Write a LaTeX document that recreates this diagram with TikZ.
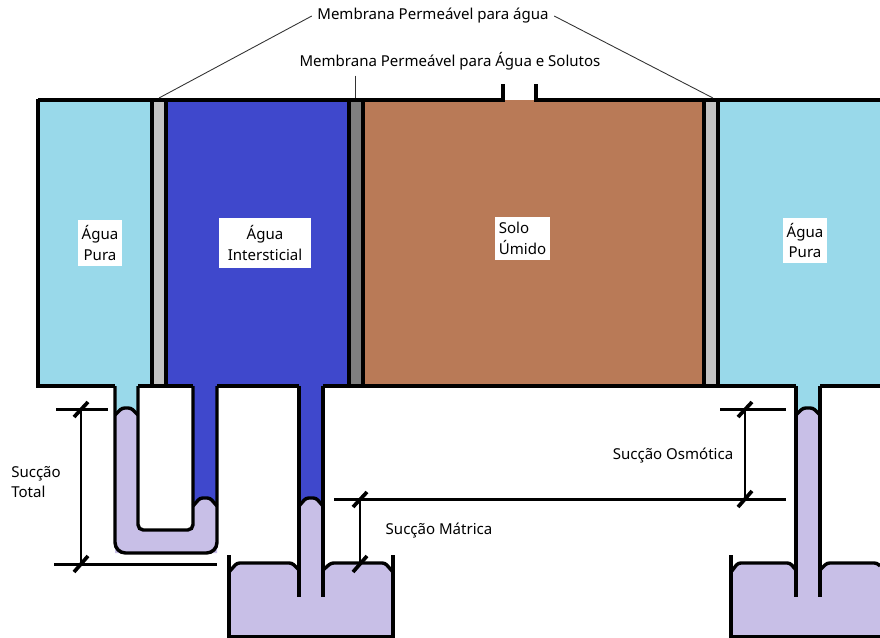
\documentclass[tikz,border=0pt]{standalone}
\usepackage{fontspec}
\setmainfont{Noto Sans}
\definecolor{bgWater}{HTML}{99D9EA}
\definecolor{bgPore}{HTML}{3F48CC}
\definecolor{bgSoil}{HTML}{B97A57}
\definecolor{bgMercury}{HTML}{C8BFE7}
\definecolor{bgMemLight}{HTML}{C3C3C3}
\definecolor{bgMemDark}{HTML}{7F7F7F}

\begin{document}
\begin{tikzpicture}[
    x=0.02cm, y=-0.02cm,
    font=\fontsize{8.55}{11.9}\selectfont,
    wall/.style={draw=black, line width=1.95pt},
    meniscus/.style={wall, rounded corners=1.5pt},
    dimLine/.style={draw=black, line width=1.7pt},
    tick/.style={draw=black, line width=2.1pt},
    leader/.style={draw=black!80, line width=0.5pt},
    chamberText/.style={fill=white, align=center, inner xsep=2.3pt, inner ysep=3pt},
    plainText/.style={align=left, inner sep=3pt}
]
\useasboundingbox (0, 0) rectangle (880, 637);

\fill[bgWater] (38, 100) rectangle (152, 386);
\fill[bgMemLight] (152, 100) rectangle (166, 386);
\fill[bgPore] (166, 100) rectangle (349, 386);
\fill[bgMemDark] (349, 100) rectangle (363, 386);
\fill[bgSoil] (363, 100) rectangle (704, 386);
\fill[bgMemLight] (704, 100) rectangle (718, 386);
\fill[bgWater] (718, 100) rectangle (880, 386);

\fill[bgWater] (115, 386) rectangle (138, 412);
\fill[bgWater] (796, 386) rectangle (820, 412);
\fill[bgPore] (193, 386) rectangle (217, 502);
\fill[bgPore] (299, 386) rectangle (323, 502);

\fill[bgMercury] (115, 415) -- (122, 408) -- (131, 408) -- (138, 415) -- (138, 530) -- (193, 530) -- (193, 506) -- (200, 498) -- (210, 498) -- (217, 506) -- (217, 553) -- (115, 553) -- cycle;
\fill[bgMercury] (299, 506) -- (306, 498) -- (316, 498) -- (323, 506) -- (323, 570) -- (331, 563) -- (385, 563) -- (393, 572) -- (393, 637) -- (229, 637) -- (229, 572) -- (237, 563) -- (292, 563) -- (299, 570) -- cycle;
\fill[bgMercury] (796, 415) -- (803, 408) -- (813, 408) -- (820, 415) -- (820, 570) -- (827, 563) -- (877, 563) -- (880, 566) -- (880, 637) -- (731, 637) -- (731, 572) -- (738, 563) -- (790, 563) -- (796, 570) -- cycle;

\draw[wall] (38, 100) -- (503, 100) -- (503, 84);
\draw[wall] (536, 84) -- (536, 100) -- (880, 100);
\draw[wall] (38, 99) -- (38, 386) -- (115, 386);
\foreach \xpos in {152, 166, 349, 363, 704, 718} {
    \draw[wall] (\xpos, 100) -- (\xpos, 386);
}
\draw[wall] (138, 386) -- (193, 386);
\draw[wall] (217, 386) -- (299, 386);
\draw[wall] (323, 386) -- (796, 386);
\draw[wall] (820, 386) -- (880, 386);

\draw[wall, rounded corners=6pt] (115, 386) -- (115, 553) -- (217, 553) -- (217, 386);
\draw[wall, rounded corners=3pt] (138, 386) -- (138, 530) -- (193, 530) -- (193, 386);
\draw[wall] (299, 386) -- (299, 597);
\draw[wall] (323, 386) -- (323, 597);
\draw[wall] (796, 386) -- (796, 597);
\draw[wall] (820, 386) -- (820, 597);

\draw[meniscus] (115, 415) -- (122, 408) -- (131, 408) -- (138, 415);
\draw[meniscus] (193, 506) -- (200, 498) -- (210, 498) -- (217, 506);
\draw[meniscus] (299, 506) -- (306, 498) -- (316, 498) -- (323, 506);
\draw[meniscus] (796, 415) -- (803, 408) -- (813, 408) -- (820, 415);

\draw[wall] (229, 555) -- (229, 637) -- (393, 637) -- (393, 555);
\draw[meniscus] (229, 572) -- (237, 563) -- (292, 563) -- (299, 570);
\draw[meniscus] (323, 570) -- (331, 563) -- (385, 563) -- (393, 572);
\draw[wall] (731, 555) -- (731, 637) -- (880, 637);
\draw[meniscus] (731, 572) -- (738, 563) -- (790, 563) -- (796, 570);
\draw[meniscus] (820, 570) -- (827, 563) -- (877, 563) -- (880, 566);

\coordinate (totalTop) at (81, 409);
\coordinate (totalBottom) at (81, 564);
\coordinate (matricTop) at (360, 499);
\coordinate (matricBottom) at (360, 564);
\coordinate (osmoticTop) at (745, 409);
\coordinate (osmoticBottom) at (745, 499);

\draw[dimLine] (56, 409) -- (108, 409);
\draw[dimLine] (54, 564) -- (217, 564);
\draw[dimLine] (334, 499) -- (786, 499);
\draw[dimLine] (720, 409) -- (786, 409);

\foreach \dimA/\dimB in {totalTop/totalBottom, matricTop/matricBottom, osmoticTop/osmoticBottom} {
    \draw[dimLine] (\dimA) -- (\dimB);
    \draw[tick] ([shift={(-7, 8)}]\dimA) -- ([shift={(7, -7)}]\dimA);
    \draw[tick] ([shift={(-7, 8)}]\dimB) -- ([shift={(7, -8)}]\dimB);
}

\coordinate (memLeft) at (159, 98);
\coordinate (memMiddle) at (355, 98);
\coordinate (memRight) at (713, 98);

\node[plainText] (membWater) at (433, 16) {Membrana Permeável para água};
\node[plainText] (membSolute) at (450, 61) {Membrana Permeável para Água e Solutos};
\draw[leader] (membWater.west) -- (memLeft);
\draw[leader] (membWater.east) -- (memRight);
\draw[leader] (membSolute.south -| memMiddle) -- (memMiddle);

\node[chamberText] (waterLeft) at (100, 243) {Água\\Pura};
\node[chamberText, inner xsep=4.8pt, inner ysep=4pt] (poreWater) at (265, 243) {Água\\Intersticial};
\node[chamberText, align=left] (soil) at (522.5, 238.5) {Solo\\Úmido};
\node[chamberText] (waterRight) at (805, 240.5) {Água\\Pura};

\node[plainText] (total) at (36, 482) {Sucção\\Total};
\node[plainText] (osmotic) at (673, 456) {Sucção Osmótica};
\node[plainText] (matric) at (439, 531) {Sucção Mátrica};

\end{tikzpicture}
\end{document}
